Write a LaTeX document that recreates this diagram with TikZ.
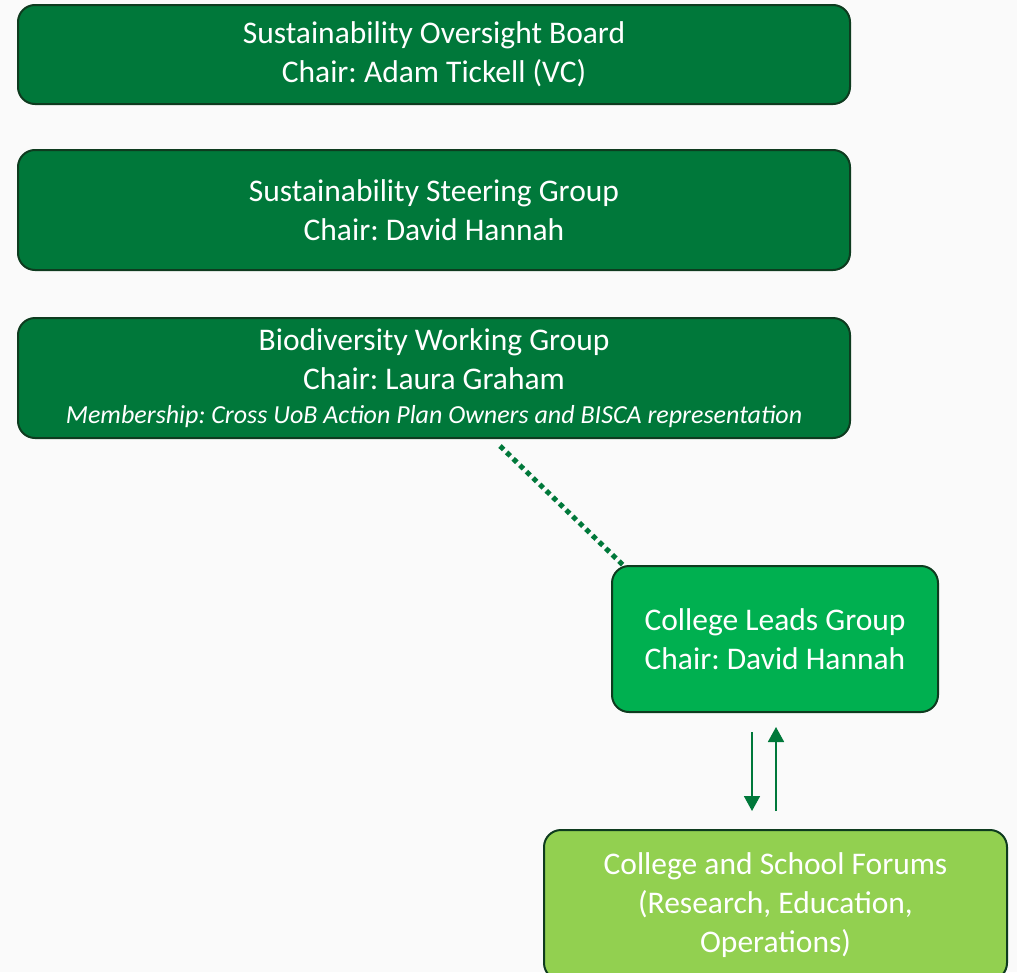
\documentclass[tikz,border=0pt]{standalone}
\usepackage{fontspec}
\setmainfont{Carlito}
\usetikzlibrary{arrows.meta,calc}
\definecolor{bg}{HTML}{FAFAFA}
\definecolor{dkgreen}{HTML}{00783A}
\definecolor{midgreen}{HTML}{00B050}
\definecolor{ltgreen}{HTML}{92D050}
\definecolor{edge}{HTML}{0E3B1F}
\frenchspacing
\begin{document}
\begin{tikzpicture}[x=1pt,y=-1pt,
  box/.style={draw=edge,line width=2pt,rounded corners=17pt,text=white,align=center,
    inner sep=0pt,font=\fontsize{31.5}{39}\selectfont},
  dotline/.style={draw=dkgreen,line width=5pt,dash pattern=on 5pt off 4.2pt,line cap=butt},
  flow/.style={draw=dkgreen,line width=1.8pt,-{Triangle[width=16pt,length=15pt]}}]
\fill[bg] (0,0) rectangle (1017,972);
\useasboundingbox (0,0) rectangle (1017,972);
\node[box,fill=dkgreen,minimum width=832pt,minimum height=99pt] (b1) at (434,54.5)
  {Sustainability Oversight Board\\Chair: Adam Tickell (VC)};
\node[box,fill=dkgreen,minimum width=832pt,minimum height=120pt] (b2) at (434,210)
  {Sustainability Steering Group\\Chair: David Hannah};
\node[box,fill=dkgreen,minimum width=832pt,minimum height=120pt] (b3) at (434,378)
  {Biodiversity Working Group\\Chair: Laura Graham\\[-5pt]
   {\fontsize{26}{32}\selectfont\itshape Membership: Cross UoB Action Plan Owners and BISCA representation}};
\node[box,fill=midgreen,minimum width=326pt,minimum height=146pt] (b4) at (775,639)
  {College Leads Group\\Chair: David Hannah};
\node[box,fill=ltgreen,minimum width=463pt,minimum height=150pt] (b5) at (775.5,905)
  {College and School Forums\\(Research, Education,\\Operations)};
\coordinate (d1) at ($(b3.south)+(66,7)$);
\coordinate (d2) at ($(b4.north west)+(13,1)$);
\draw[dotline] (d1) -- (d2);
\coordinate (a1) at ($(b4.south)+(-23,19)$);
\coordinate (a2) at ($(b5.north)+(-23.5,-18)$);
\coordinate (u1) at ($(b5.north)+(0.5,-18)$);
\coordinate (u2) at ($(b4.south)+(1,14)$);
\draw[flow] (a1) -- (a2);
\draw[flow] (u1) -- (u2);
\end{tikzpicture}
\end{document}
